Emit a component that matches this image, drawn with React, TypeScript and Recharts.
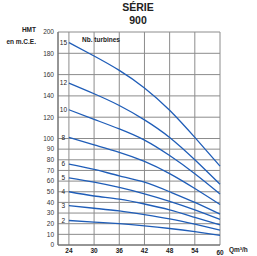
import React from 'react';
import { LineChart, Line, XAxis, YAxis, CartesianGrid } from 'recharts';

// débit (m³/h) and HMT for each number of turbines
const flows = [24, 30, 36, 42, 48, 54, 60];
const xTicks = [24, 30, 36, 42, 48, 54, 60];
const yTicks = [0, 10, 20, 30, 40, 50, 60, 70, 80, 90, 100, 120, 140, 160, 180, 200];

const turbines15 = [190, 177.5, 164, 147.5, 126.5, 101, 74];
const turbines12 = [152, 142, 131, 117.5, 101, 80, 57];
const turbines10 = [127, 118, 109, 98.5, 84, 67, 48];
const turbines8 = [101, 94, 87, 78.5, 67, 53, 38];
const turbines6 = [76, 71, 65, 59, 50, 40, 29];
const turbines5 = [63, 59, 54, 48, 41, 33, 24];
const turbines4 = [50, 46, 43, 38.5, 33, 26, 19];
const turbines3 = [37, 34.5, 32, 28.5, 24.5, 19.5, 14];
const turbines2 = [23, 21.5, 20, 18, 15.5, 12.5, 9];

const seriesList = [
  { key: 't15', name: '15', values: turbines15 },
  { key: 't12', name: '12', values: turbines12 },
  { key: 't10', name: '10', values: turbines10 },
  { key: 't8', name: '8', values: turbines8 },
  { key: 't6', name: '6', values: turbines6 },
  { key: 't5', name: '5', values: turbines5 },
  { key: 't4', name: '4', values: turbines4 },
  { key: 't3', name: '3', values: turbines3 },
  { key: 't2', name: '2', values: turbines2 },
];

const data = flows.map((q, i) => {
  const row: Record<string, number> = { q };
  seriesList.forEach(s => { row[s.key] = s.values[i]; });
  return row;
});

const FONT = '"Liberation Sans", Arial, sans-serif';
const BLUE = '#1f5db8';

// only the first point gets the turbine count, left of the curve
const makeLabel = (name: string) => (props: any) => {
  if (props.index !== 0) return null;
  return (
    <text x={props.x - 5.5} y={props.y} dy="0.35em" textAnchor="middle"
      fontSize={6.5} fontFamily={FONT} fill="#222">
      {name}
    </text>
  );
};

const XTick = (props: any) => {
  const { x, y, payload } = props;
  return (
    <text x={x} y={y + (payload.value === 60 ? 10 : 8)} textAnchor="middle"
      fontSize={6.5} fontWeight="bold" fontFamily={FONT} fill="#222">
      {payload.value}
    </text>
  );
};

const abs = (left: number, top: number, extra: React.CSSProperties = {}): React.CSSProperties => ({
  position: 'absolute', left, top, fontFamily: FONT, color: '#222', whiteSpace: 'nowrap', lineHeight: 1, ...extra,
});

export default function App() {
  return (
    <div style={{ position: 'absolute', left: 0, top: 0, width: 257, height: 256, background: '#fff' }}>
      <LineChart width={257} height={256} data={data} margin={{ top: 32, right: 37, left: 0, bottom: 0 }}>
        <CartesianGrid stroke="#8c8c8c" strokeWidth={1} />
        <XAxis
          dataKey="q"
          type="number"
          domain={[21.4, 60]}
          ticks={xTicks}
          interval={0}
          height={11}
          tickSize={0}
          tickMargin={0}
          tickLine={false}
          axisLine={{ stroke: '#666' }}
          tick={<XTick />}
        />
        <YAxis
          type="number"
          domain={[0, 200]}
          ticks={yTicks}
          interval={0}
          width={58}
          tickSize={0}
          tickMargin={4}
          tickLine={false}
          axisLine={{ stroke: '#666' }}
          tick={{ fontSize: 6.5, fill: '#333', fontFamily: FONT }}
        />
        {seriesList.map(s => (
          <Line
            key={s.key}
            type="natural"
            dataKey={s.key}
            stroke={BLUE}
            strokeWidth={1.3}
            dot={false}
            isAnimationActive={false}
            label={makeLabel(s.name)}
          />
        ))}
      </LineChart>
      <div style={abs(0, 2, { width: 276, textAlign: 'center', fontSize: 10.5, fontWeight: 'bold' })}>SÉRIE</div>
      <div style={abs(0, 15, { width: 276, textAlign: 'center', fontSize: 10.5, fontWeight: 'bold' })}>900</div>
      <div style={abs(0, 27, { width: 36, textAlign: 'right', fontSize: 6.5, fontWeight: 'bold' })}>HMT</div>
      <div style={abs(0, 39, { width: 36, textAlign: 'right', fontSize: 6.5, fontWeight: 'bold' })}>en m.C.E.</div>
      <div style={abs(82, 37, { fontSize: 6.5, fontWeight: 'bold' })}>Nb. turbines</div>
      <div style={abs(229, 247, { fontSize: 6.5, fontWeight: 'bold' })}>Qm³/h</div>
    </div>
  );
}
